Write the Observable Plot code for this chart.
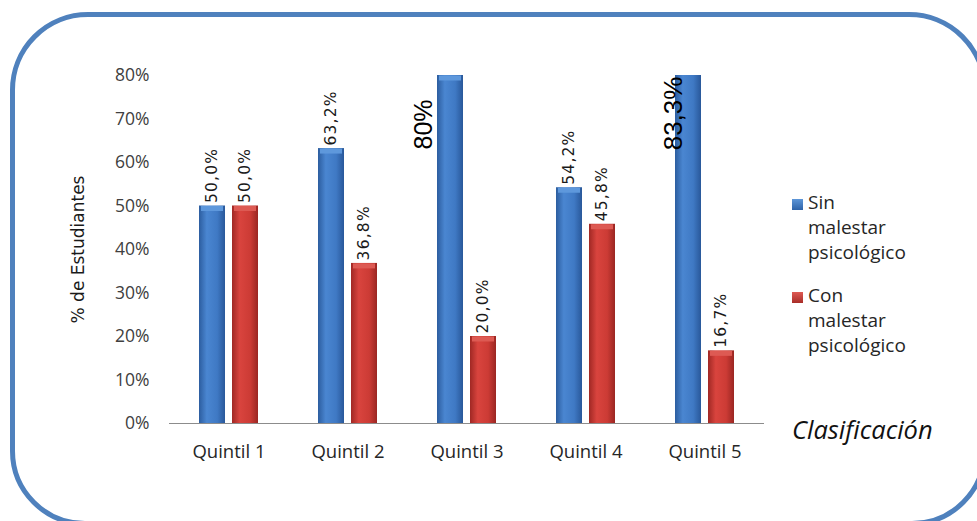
<!DOCTYPE html>
<html>
<head>
<meta charset="utf-8">
<script src="https://cdn.jsdelivr.net/npm/d3@7"></script>
<script src="https://cdn.jsdelivr.net/npm/@observablehq/plot@0.6"></script>
<style>
  html, body { margin: 0; padding: 0; background: #fff; }
  #wrap { position: relative; width: 977px; height: 521px; overflow: hidden; background: #fff; }
  #border { position: absolute; left: 10px; top: 12px; width: 977px; height: 514px; box-sizing: border-box;
            border: 5px solid #4f81bd; border-radius: 78px 78px 75px 75px; }
  #chart { position: absolute; left: 0; top: 0; }
  .leg { position: absolute; font-family: "Open Sans", sans-serif; font-size: 19px; color: #262626; line-height: 25px; }
  .sw { position: absolute; width: 11px; height: 11px; }
  #clas { position: absolute; left: 792px; top: 412px; font-family: "Open Sans", sans-serif; font-style: italic; font-size: 25.5px; color: #111; }
  .vlab text { letter-spacing: 1.2px; }
</style>
</head>
<body>
<div id="wrap">
  <div id="border"></div>
  <div id="chart"></div>
  <div class="sw" style="left:792px;top:199px;background:linear-gradient(#5d96d8,#2e63a8);"></div>
  <div class="leg" style="left:808px;top:190px;">Sin<br>malestar<br>psicológico</div>
  <div class="sw" style="left:792px;top:292px;background:linear-gradient(#de5a53,#a82d28);"></div>
  <div class="leg" style="left:808px;top:283px;">Con<br>malestar<br>psicológico</div>
  <div id="clas">Clasificación</div>
</div>
<script>
const quintiles = ["Quintil 1", "Quintil 2", "Quintil 3", "Quintil 4", "Quintil 5"];
const series = ["Sin malestar psicológico", "Con malestar psicológico"];
const sinMalestar = [0.500, 0.632, 0.800, 0.542, 0.833];
const conMalestar = [0.500, 0.368, 0.200, 0.458, 0.167];
const sinLabels = ["50,0%", "63,2%", "80%", "54,2%", "83,3%"];
const conLabels = ["50,0%", "36,8%", "20,0%", "45,8%", "16,7%"];
const yTicks = [0, 0.1, 0.2, 0.3, 0.4, 0.5, 0.6, 0.7, 0.8];

const rows = quintiles.flatMap((q, i) => [
  {q, s: series[0], v: sinMalestar[i], label: sinLabels[i], i},
  {q, s: series[1], v: conMalestar[i], label: conLabels[i], i}
]);
const sinRows = rows.filter(d => d.s === series[0]);
const conRows = rows.filter(d => d.s === series[1]);
const bigIdx = [2, 4];
const smallRows = rows.filter(d => !(d.s === series[0] && bigIdx.includes(d.i)));

const chart = Plot.plot({
  width: 977,
  height: 521,
  marginLeft: 168,
  marginRight: 212,
  marginTop: 75,
  marginBottom: 98,
  style: {background: "transparent", overflow: "visible"},
  fx: {domain: quintiles, padding: 0},
  x: {domain: series, paddingInner: 0.2, paddingOuter: 0.86, axis: null},
  y: {domain: [0, 0.8]},
  marks: [
    Plot.ruleY([0], {stroke: "#8c8c8c", strokeWidth: 1.2}),
    Plot.axisY({ticks: yTicks, tickSize: 0, tickPadding: 20, tickFormat: d => Math.round(d * 100) + "%",
                label: null, line: true, stroke: "#8c8c8c", fill: "#404040",
                fontSize: 17.5, fontFamily: "Open Sans"}),
    Plot.axisFx({anchor: "bottom", tickSize: 0, tickPadding: 21, label: null, fill: "#262626",
                 fontSize: 18.5, fontFamily: "Open Sans"}),
    Plot.barY(sinRows, {fx: "q", x: "s", y: "v", fill: "url(#gBlue)", clip: true}),
    Plot.barY(conRows, {fx: "q", x: "s", y: "v", fill: "url(#gRed)", clip: true}),
    Plot.tickY(sinRows, {fx: "q", x: "s", y: "v", stroke: "#5e98dc", strokeWidth: 5, dy: 2.5, clip: true, inset: 2}),
    Plot.tickY(conRows, {fx: "q", x: "s", y: "v", stroke: "#dd5a53", strokeWidth: 5, dy: 2.5, clip: true, inset: 2}),
    Plot.text(smallRows, {fx: "q", x: "s", y: "v", text: "label", rotate: -90, textAnchor: "start",
                          dy: -3, fontFamily: "DejaVu Sans", fontSize: 15.5, fill: "#1a1a1a", className: "vlab"}),
    Plot.text(sinRows.filter(d => d.i === 2), {fx: "q", x: "s", y: () => 0.63, text: "label", rotate: -90,
                          textAnchor: "start", dx: -27, fontFamily: "Liberation Sans", fontSize: 25, fill: "#000"}),
    Plot.text(sinRows.filter(d => d.i === 4), {fx: "q", x: "s", y: () => 0.628, text: "label", rotate: -90,
                          textAnchor: "start", dx: -15, fontFamily: "Liberation Sans", fontSize: 26, fill: "#000"}),
    Plot.text(["% de Estudiantes"], {frameAnchor: "left", textAnchor: "middle", text: d => d, rotate: -90, dx: -91,
                          fontFamily: "DejaVu Sans", fontSize: 17, fill: "#1a1a1a", facet: "super"})
  ]
});

const ns = "http://www.w3.org/2000/svg";
const defs = document.createElementNS(ns, "defs");
defs.innerHTML = `
  <linearGradient id="gBlue" x1="0" x2="1" y1="0" y2="0">
    <stop offset="0" stop-color="#2c5d9f"/>
    <stop offset="0.3" stop-color="#4a86d1"/>
    <stop offset="0.7" stop-color="#3f79c4"/>
    <stop offset="1" stop-color="#29589a"/>
  </linearGradient>
  <linearGradient id="gRed" x1="0" x2="1" y1="0" y2="0">
    <stop offset="0" stop-color="#a02824"/>
    <stop offset="0.3" stop-color="#d9443e"/>
    <stop offset="0.7" stop-color="#cc3b35"/>
    <stop offset="1" stop-color="#9a2622"/>
  </linearGradient>`;
chart.insertBefore(defs, chart.firstChild);
document.getElementById("chart").appendChild(chart);
</script>
</body>
</html>
